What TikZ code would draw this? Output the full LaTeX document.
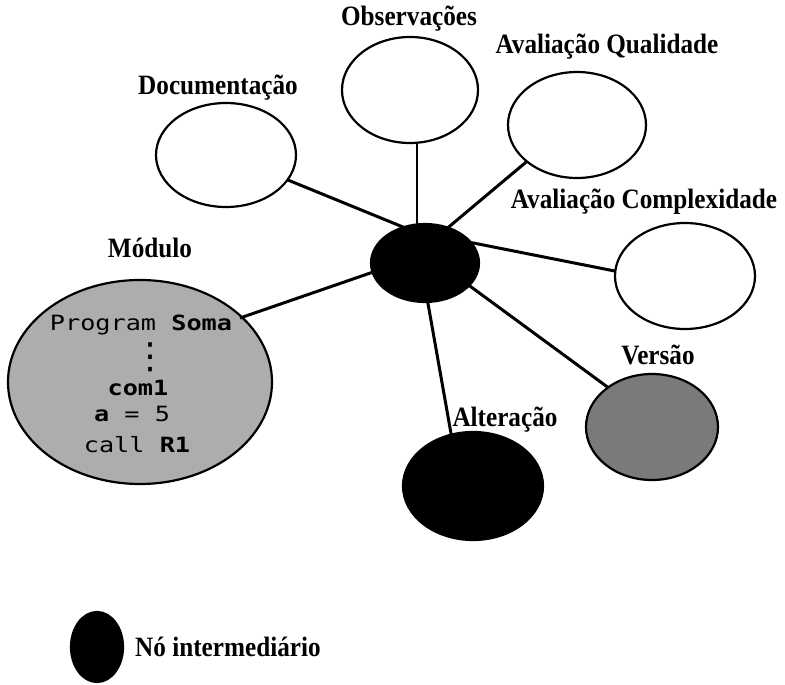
\documentclass[tikz,border=0pt]{standalone}
\usepackage{fontspec}
\setmainfont{Liberation Serif}[FakeStretch=0.9]
\newfontfamily\codefont[FakeStretch=1.2]{DejaVu Sans Mono}
\newfontfamily\vdotsfont{DejaVu Sans}
\usetikzlibrary{shapes.geometric}

\begin{document}
\begin{tikzpicture}[x=1pt,y=-1pt,
  blob/.style args={#1/#2}{ellipse, draw=black, line width=2.2pt,
    minimum width=#1pt, minimum height=#2pt, inner sep=0pt, outer sep=0pt},
  tag/.style={font=\bfseries\fontsize{28}{30}\selectfont, inner sep=0pt},
  codeline/.style={font=\codefont\fontsize{21}{24}\selectfont, inner sep=0pt, anchor=base},
  spoke/.style={line width=3pt}]
\useasboundingbox (0,0) rectangle (785,685);

% central hub and its satellites
\node[blob=108/78, fill=black] (hub) at (425,263) {};
\node[blob=140/104, fill=white] (doc) at (226,155) {};
\node[blob=136/106, fill=white] (obs) at (410,90) {};
\node[blob=138/106, fill=white] (aq) at (577,125) {};
\node[blob=140/106, fill=white] (ac) at (685,276) {};
\node[blob=264/204, fill=black!32] (mod) at (140,382) {};
\node[blob=132/106, fill=black!52] (ver) at (652,427) {};
\node[blob=140/108, fill=black] (alt) at (473,486) {};

% module source text
\node[codeline] (c1) at (141,330) {Program \textbf{Soma}};
\node[inner sep=0pt, font=\vdotsfont\fontsize{36}{36}\selectfont] (c2) at (150,357) {⋮};
\node[codeline] (c4) at (138,395) {\textbf{com1}};
\node[codeline] (c5) at (132,421) {\textbf{a} = 5};
\node[codeline] (c6) at (137,452) {call \textbf{R1}};
\coordinate (somaend) at (240,318);

% spokes
\draw[spoke] (hub.121) -- (doc.-22);
\draw[spoke, line width=2pt] (obs.-82) -- (obs.-82 |- hub.north);
\draw[spoke] (hub.57) -- (aq.216);
\draw[spoke] (hub.24) -- (ac.176);
\draw[spoke] (hub.190) -- (somaend);
\draw[spoke] (hub.-27) -- (ver.138);
\draw[spoke] (hub.-86) -- (alt.113);

% titles
\node[tag] (docT) at (218,88) {Documentação};
\node[tag] (obsT) at (409,19) {Observações};
\node[tag] (aqT) at (607,47) {Avaliação Qualidade};
\node[tag] (acT) at (644,202) {Avaliação Complexidade};
\node[tag] (modT) at (150,248) {Módulo};
\node[tag] (verT) at (658,355) {Versão};
\node[tag] (altT) at (505,420) {Alteração};

% legend
\node[blob=52/70, fill=black] (key) at (97,647) {};
\node[tag, anchor=west] (keyT) at (135,647) {Nó intermediário};
\end{tikzpicture}
\end{document}
